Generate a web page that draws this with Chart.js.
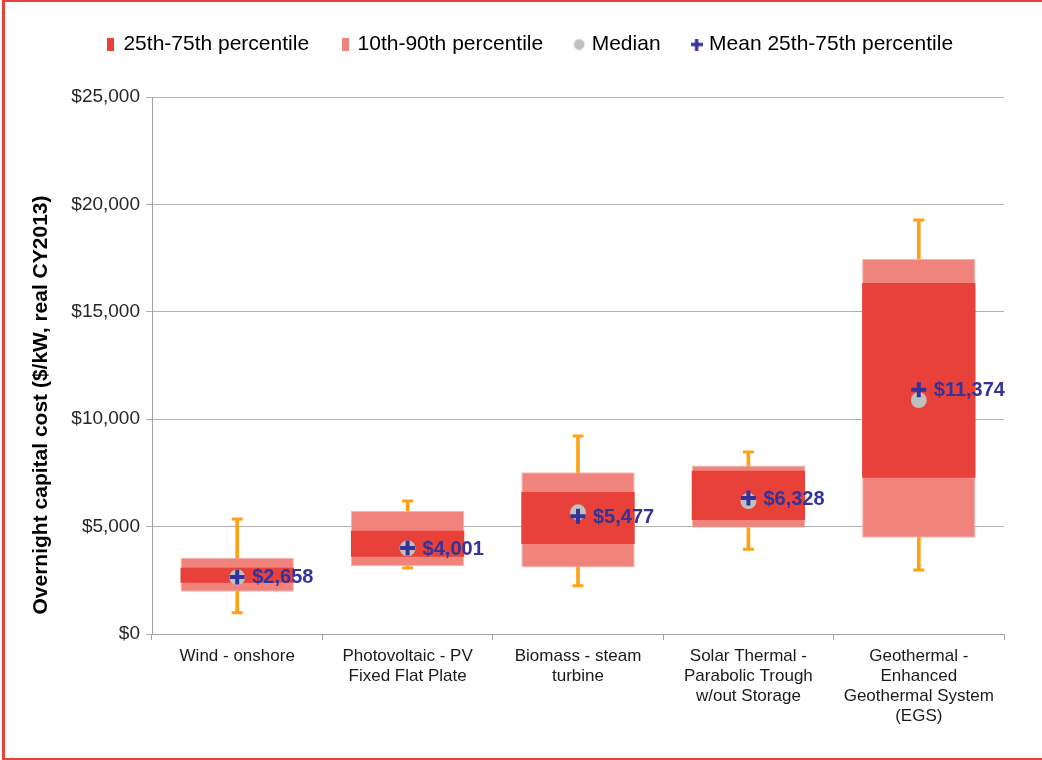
<!DOCTYPE html>
<html>
<head>
<meta charset="utf-8">
<script src="https://cdn.jsdelivr.net/npm/chart.js@4/dist/chart.umd.min.js"></script>
<style>
  html, body { margin: 0; padding: 0; background: #ffffff; }
  #wrap { position: relative; width: 1042px; height: 760px; }
  #frame { position: absolute; left: 2px; top: 0; width: 1040px; height: 760px; box-sizing: border-box;
           border-top: 2px solid #E8413A; border-left: 3px solid #E8413A; border-bottom: 2px solid #E8413A; pointer-events: none; }
  canvas { position: absolute; left: 0; top: 0; }
</style>
</head>
<body>
<div id="wrap">
  <canvas id="c" width="1042" height="760"></canvas>
  <div id="frame"></div>
</div>
<script>
// ---- data ----
const categories = [
  "Wind - onshore",
  ["Photovoltaic - PV", "Fixed Flat Plate"],
  ["Biomass - steam", "turbine"],
  ["Solar Thermal -", "Parabolic Trough", "w/out Storage"],
  ["Geothermal -", "Enhanced", "Geothermal System", "(EGS)"]
];
const p10 = [1970, 3150, 3100, 4950, 4480];
const p25 = [2390, 3600, 4190, 5310, 7280];
const p75 = [3090, 4810, 6610, 7600, 16340];
const p90 = [3550, 5730, 7530, 7840, 17460];
const whiskerLow = [990, 3070, 2250, 3940, 2980];
const whiskerHigh = [5350, 6190, 9220, 8470, 19270];
const medians = [2640, 3990, 5665, 6190, 10890];
const means = [2658, 4001, 5477, 6328, 11374];
const yTicks = [0, 5000, 10000, 15000, 20000, 25000];
const yTitle = "Overnight capital cost ($/kW, real CY2013)";

const DARK = "#E8413A", LIGHT = "#F0837C", ORANGE = "#FFA114", NAVY = "#333399", GREY = "#C0C0C0";
const FONT = "'Liberation Sans', Arial, sans-serif";

function icon(w, h, draw) {
  const c = document.createElement('canvas');
  c.width = w; c.height = h;
  draw(c.getContext('2d'));
  return c;
}
const legendIcons = [
  icon(7, 13, g => { g.fillStyle = DARK; g.fillRect(0, 0, 7, 13); }),
  icon(7, 13, g => { g.fillStyle = LIGHT; g.fillRect(0, 0, 7, 13); }),
  icon(12, 12, g => { g.fillStyle = GREY; g.beginPath(); g.arc(6, 6, 5.4, 0, Math.PI * 2); g.fill(); }),
  icon(12, 12, g => { g.fillStyle = NAVY; g.fillRect(0, 4.3, 12, 3.4); g.fillRect(4.3, 0, 3.4, 12); })
];

const pairs = (a, b) => a.map((v, i) => [v, b[i]]);

const meanLabels = {
  id: 'meanLabels',
  afterDatasetsDraw(chart) {
    const meta = chart.getDatasetMeta(3);
    const ctx = chart.ctx;
    ctx.save();
    ctx.font = "bold 20px " + FONT;
    ctx.fillStyle = NAVY;
    ctx.textAlign = 'left';
    ctx.textBaseline = 'middle';
    meta.data.forEach((pt, i) => {
      ctx.fillText('$' + means[i].toLocaleString('en-US'), pt.x + 15, pt.y + 1);
    });
    ctx.restore();
  }
};
const yTitlePlugin = {
  id: 'yTitle',
  afterDraw(chart) {
    const ctx = chart.ctx;
    ctx.save();
    ctx.translate(41, 405);
    ctx.rotate(-Math.PI / 2);
    ctx.font = "bold 21px " + FONT;
    ctx.fillStyle = "#000";
    ctx.textAlign = 'center';
    ctx.textBaseline = 'middle';
    ctx.fillText(yTitle, 0, 0);
    ctx.restore();
  }
};

new Chart(document.getElementById('c'), {
  type: 'bar',
  data: {
    labels: categories,
    datasets: [
      { label: '25th-75th percentile', data: pairs(p25, p75), backgroundColor: DARK, borderWidth: 0,
        grouped: false, barPercentage: 1, categoryPercentage: 0.665, order: 2 },
      { label: '10th-90th percentile', data: pairs(p10, p90), backgroundColor: LIGHT, borderColor: '#F6B3AD',
        borderWidth: 1, borderSkipped: false, grouped: false, barPercentage: 1, categoryPercentage: 0.665, order: 3 },
      { type: 'line', label: 'Median', data: medians, showLine: false, pointStyle: 'circle', pointRadius: 8,
        pointHoverRadius: 8, pointBackgroundColor: GREY, pointBorderWidth: 0, backgroundColor: GREY, borderColor: GREY, order: 1 },
      { type: 'line', label: 'Mean 25th-75th percentile', data: means, showLine: false, pointStyle: 'cross',
        pointRadius: 7.5, pointHoverRadius: 7.5, pointBorderWidth: 4, pointBorderColor: NAVY, borderColor: NAVY, order: 0 },
      { label: 'whisker', data: pairs(whiskerLow, whiskerHigh), backgroundColor: ORANGE, borderWidth: 0,
        grouped: false, barThickness: 3, order: 6 },
      { type: 'line', label: 'capLow', data: whiskerLow, showLine: false, pointStyle: 'line', pointRadius: 5.5,
        pointHoverRadius: 5.5, pointBorderWidth: 3, pointBorderColor: ORANGE, borderColor: ORANGE, order: 5 },
      { type: 'line', label: 'capHigh', data: whiskerHigh, showLine: false, pointStyle: 'line', pointRadius: 5.5,
        pointHoverRadius: 5.5, pointBorderWidth: 3, pointBorderColor: ORANGE, borderColor: ORANGE, order: 5 }
    ]
  },
  options: {
    responsive: false,
    animation: false,
    events: [],
    layout: { padding: { left: 58, right: 38, top: 0, bottom: 0 } },
    plugins: {
      tooltip: { enabled: false },
      legend: {
        position: 'top',
        labels: {
          font: { family: FONT, size: 21 },
          color: '#000',
          usePointStyle: true,
          boxWidth: 4,
          boxHeight: 12,
          padding: 34,
          filter: item => item.datasetIndex < 4,
          sort: (a, b) => a.datasetIndex - b.datasetIndex,
          generateLabels(chart) {
            const items = Chart.defaults.plugins.legend.labels.generateLabels(chart);
            items.forEach(it => { if (it.datasetIndex < 4) it.pointStyle = legendIcons[it.datasetIndex]; });
            return items;
          }
        }
      },
      subtitle: {
        display: true,
        text: '',
        weight: 500,
        font: { size: 1, lineHeight: 1 },
        padding: { top: 31, bottom: 0 }
      }
    },
    scales: {
      x: {
        offset: true,
        grid: { offset: true, drawOnChartArea: false, drawTicks: true, tickLength: 6, color: '#A0A0A0' },
        border: { display: true, color: '#A0A0A0', width: 1 },
        ticks: { font: { family: FONT, size: 17, lineHeight: 1.18 }, color: '#1a1a1a', padding: 6, maxRotation: 0, autoSkip: false },
        afterFit(scale) { scale.height = 126; }
      },
      y: {
        min: 0, max: 25000,
        afterBuildTicks(scale) { scale.ticks = yTicks.map(v => ({ value: v })); },
        grid: { color: '#B0B0B0', tickLength: 6, drawTicks: true },
        border: { display: true, color: '#A0A0A0', width: 1 },
        ticks: {
          font: { family: FONT, size: 19 }, color: '#262626', padding: 6,
          callback: v => '$' + v.toLocaleString('en-US')
        },
        afterFit(scale) { scale.width = 94; }
      }
    }
  },
  plugins: [meanLabels, yTitlePlugin]
});
</script>
</body>
</html>
